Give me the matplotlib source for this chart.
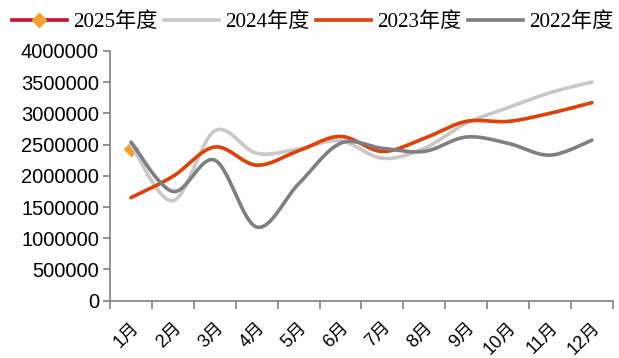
import numpy as np
import matplotlib
matplotlib.use("Agg")
import matplotlib.pyplot as plt
from matplotlib.lines import Line2D
from matplotlib.ticker import FuncFormatter, FixedLocator

plt.rcParams['font.family'] = ['Liberation Sans', 'Noto Sans CJK SC']

months = ['1月', '2月', '3月', '4月', '5月', '6月', '7月', '8月', '9月', '10月', '11月', '12月']
y2025 = [2430000]
y2024 = [2500000, 1600000, 2720000, 2360000, 2430000, 2560000, 2280000, 2440000, 2840000, 3090000, 3330000, 3500000]
y2023 = [1650000, 1990000, 2460000, 2170000, 2400000, 2630000, 2390000, 2600000, 2870000, 2870000, 3000000, 3170000]
y2022 = [2540000, 1750000, 2250000, 1180000, 1870000, 2520000, 2440000, 2390000, 2620000, 2520000, 2330000, 2570000]


def smooth(ys, n=30):
    # Catmull-Rom style cubic Bezier between points (like a spreadsheet "smoothed line")
    ys = np.asarray(ys, dtype=float)
    xs = np.arange(len(ys), dtype=float)
    pts = np.column_stack([xs, ys])
    out = [pts[0]]
    t = np.linspace(0, 1, n)[1:]
    for i in range(len(pts) - 1):
        p0 = pts[i - 1] if i > 0 else pts[i]
        p1 = pts[i]
        p2 = pts[i + 1]
        p3 = pts[i + 2] if i + 2 < len(pts) else pts[i + 1]
        c1 = p1 + (p2 - p0) / 6.0
        c2 = p2 - (p3 - p1) / 6.0
        seg = ((1 - t) ** 3)[:, None] * p1 + (3 * (1 - t) ** 2 * t)[:, None] * c1 \
            + (3 * (1 - t) * t ** 2)[:, None] * c2 + (t ** 3)[:, None] * p2
        out.extend(seg)
    out = np.array(out)
    return out[:, 0], out[:, 1]


c2025_line = '#C8102E'
c2025_mark = '#F7A030'
c2024 = '#C8C8C8'
c2023 = '#E0400A'
c2022 = '#7F7F7F'

fig = plt.figure(figsize=(6.19, 3.58), dpi=100)
ax = fig.add_axes([0.1777, 0.16, 0.8123, 0.698])

for ys, col in [(y2024, c2024), (y2023, c2023), (y2022, c2022)]:
    sx, sy = smooth(ys)
    ax.plot(sx, sy, color=col, lw=2.6, solid_capstyle='round', zorder=2)
ax.plot(range(len(y2025)), y2025, color=c2025_line, lw=2.6, marker='D',
        markersize=7, markerfacecolor=c2025_mark, markeredgecolor=c2025_mark, zorder=1)

ax.set_xlim(-0.5, 11.5)
ax.set_ylim(0, 4000000)
ax.set_yticks(np.arange(0, 4000001, 500000))
ax.yaxis.set_major_formatter(FuncFormatter(lambda v, p: '%d' % v))

ax.xaxis.set_major_locator(FixedLocator(np.arange(-0.5, 12, 1)))
ax.xaxis.set_minor_locator(FixedLocator(np.arange(12)))
ax.set_xticklabels([], minor=False)
ax.set_xticklabels(months, minor=True, rotation=45, ha='right', va='top',
                   rotation_mode='anchor')
ax.tick_params(axis='x', which='major', length=6, width=1.2, color='#808080', direction='out')
ax.tick_params(axis='x', which='minor', length=0, pad=13, labelsize=13)
ax.tick_params(axis='y', length=5, width=1.2, color='#808080', pad=3, labelsize=14.5)

for s in ['top', 'right']:
    ax.spines[s].set_visible(False)
for s in ['left', 'bottom']:
    ax.spines[s].set_color('#808080')
    ax.spines[s].set_linewidth(1.2)

handles = [
    Line2D([], [], color=c2025_line, lw=2.6, marker='D', markersize=7,
           markerfacecolor=c2025_mark, markeredgecolor=c2025_mark),
    Line2D([], [], color=c2024, lw=2.6),
    Line2D([], [], color=c2023, lw=2.6),
    Line2D([], [], color=c2022, lw=2.6),
]
labels = ['2025年度', '2024年度', '2023年度', '2022年度']
fig.legend(handles, labels, loc='center', bbox_to_anchor=(0.505, 0.938), ncol=4,
           frameon=False, handlelength=2.6, handletextpad=0.3, columnspacing=0.3,
           prop={'family': ['Liberation Serif', 'Noto Sans CJK SC'], 'size': 15.2})

fig.savefig('out.png', dpi=100)
